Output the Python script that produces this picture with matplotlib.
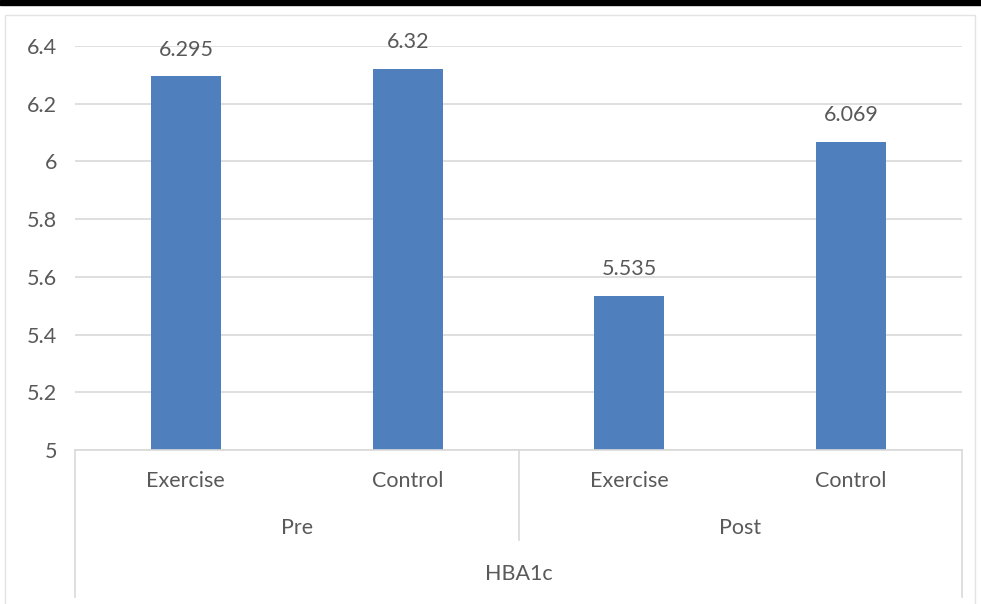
import numpy as np
import matplotlib.pyplot as plt
from matplotlib.patches import Rectangle

groups = ['Pre', 'Post']
arms = ['Exercise', 'Control', 'Exercise', 'Control']
values = [6.295, 6.32, 5.535, 6.069]
labels = ['6.295', '6.32', '5.535', '6.069']
measure = 'HBA1c'
yticks = [5, 5.2, 5.4, 5.6, 5.8, 6, 6.2, 6.4]
ytick_labels = ['5', '5.2', '5.4', '5.6', '5.8', '6', '6.2', '6.4']

plt.rcParams['font.family'] = ['Lato', 'DejaVu Sans']
txt = '#595959'
grid = '#d9d9d9'
fs = 15.5

W, H = 981, 604
fig = plt.figure(figsize=(W / 100, H / 100), dpi=100)

# top dark band + light chart frame
fig.patches.append(Rectangle((0, 1 - 5 / H), 1, 5 / H, transform=fig.transFigure,
                             color='black', zorder=0))
fig.patches.append(Rectangle((5 / W, -0.05), 970 / W, 1 - 15 / H + 0.05,
                             transform=fig.transFigure, fill=False,
                             edgecolor='#e3e3e3', lw=1, zorder=0))

x0, x1 = 75, 962
ytop, ybot = 46, 450
ax = fig.add_axes([x0 / W, (H - ybot) / H, (x1 - x0) / W, (ybot - ytop) / H])

x = np.arange(len(values))
ax.bar(x, [v - 5 for v in values], bottom=5, width=70 / 221.75, color='#4f7fbc', zorder=3)
for xi, v, lab in zip(x, values, labels):
    ax.annotate(lab, (xi, v), xytext=(0, 12), textcoords='offset points',
                ha='center', va='bottom', fontsize=fs, color=txt)

ax.set_xlim(-0.5, 3.5)
ax.set_ylim(5, 6.4)
ax.set_yticks(yticks)
ax.set_yticklabels(ytick_labels, fontsize=fs, color=txt)
ax.yaxis.grid(True, color=grid, lw=1.2, zorder=0)
ax.tick_params(axis='y', length=0, pad=13)
ax.set_xticks([])
for s in ['top', 'right', 'left']:
    ax.spines[s].set_visible(False)
ax.spines['bottom'].set_color(grid)
ax.spines['bottom'].set_linewidth(1.2)
ax.spines['bottom'].set_zorder(4)

# multi-level category axis
tr = ax.get_xaxis_transform()
ph = ybot - ytop
def fy(py):
    return (ybot - py) / ph

for xi, a in zip(x, arms):
    ax.text(xi, fy(481), a, transform=tr, ha='center', va='center',
            fontsize=fs, color=txt)
for gi, g in enumerate(groups):
    ax.text(gi * 2 + 0.5, fy(528), g, transform=tr, ha='center', va='center',
            fontsize=fs, color=txt)
ax.text(1.5, fy(574), measure, transform=tr, ha='center', va='center',
        fontsize=fs, color=txt)

ax.plot([1.5, 1.5], [0, fy(540)], transform=tr, color=grid, lw=1.2, clip_on=False)
ax.plot([-0.5, -0.5], [0, fy(597)], transform=tr, color=grid, lw=1.2, clip_on=False)
ax.plot([3.5, 3.5], [0, fy(597)], transform=tr, color=grid, lw=1.2, clip_on=False)

fig.savefig('out.png', dpi=100)
